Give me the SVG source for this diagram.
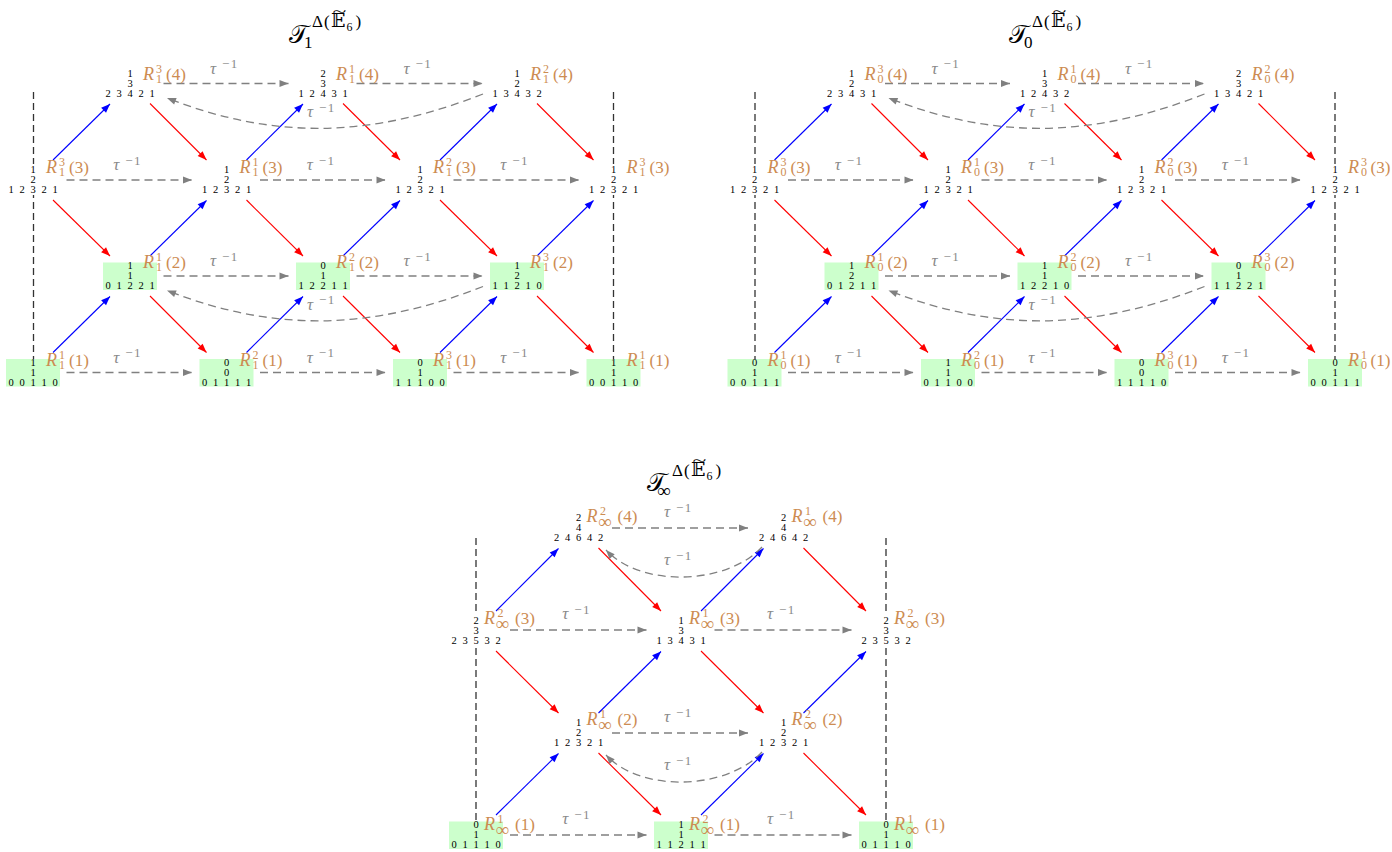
<svg xmlns="http://www.w3.org/2000/svg" width="1392" height="852" viewBox="0 0 1392 852">
<defs>
<style>
.d{font-family:"Liberation Serif",serif;font-size:10.5px;text-anchor:middle;fill:#000}
.lab{font-family:"Liberation Serif",serif;font-size:17px;fill:#cd8c52}
.it{font-style:italic;font-size:18px}
.sm{font-size:12px}
.inf{font-size:19px}
.tl{font-family:"Liberation Serif",serif;font-size:17px;fill:#8a8a8a}
.tau{font-style:italic}
.ts{font-size:13px;letter-spacing:1.5px}
.bx{fill:#ccffcc}
.wb{fill:#fff}
.b{stroke:#0000ff;stroke-width:1.1;fill:none;marker-end:url(#mb)}
.r{stroke:#ff0000;stroke-width:1.1;fill:none;marker-end:url(#mr)}
.t{stroke:#808080;stroke-width:1.3;stroke-dasharray:8 5;fill:none;marker-end:url(#mg)}
.v{stroke:#333;stroke-width:1.3;stroke-dasharray:7 4;fill:none}
.ttl{font-family:"Liberation Serif","DejaVu Serif","DejaVu Sans",serif;fill:#000}
</style>
<marker id="mb" markerUnits="userSpaceOnUse" markerWidth="10" markerHeight="8" refX="9" refY="4" orient="auto" overflow="visible"><path d="M0,0.5 L9,4 L0,7.5 Z" fill="#0000ff"/></marker>
<marker id="mr" markerUnits="userSpaceOnUse" markerWidth="10" markerHeight="8" refX="9" refY="4" orient="auto" overflow="visible"><path d="M0,0.5 L9,4 L0,7.5 Z" fill="#ff0000"/></marker>
<marker id="mg" markerUnits="userSpaceOnUse" markerWidth="10" markerHeight="8" refX="9" refY="4" orient="auto" overflow="visible"><path d="M0,0.5 L9,4 L0,7.5 Z" fill="#808080"/></marker>
</defs>
<rect width="1392" height="852" fill="#fff"/>

<g id="titles">
<g id="title-t1"><text class="ttl"><tspan x="289" y="43" font-size="25">𝒯</tspan><tspan x="304" y="48" font-size="17">1</tspan><tspan x="312" y="27" font-size="17">Δ</tspan><tspan x="324" y="27" font-size="17">(</tspan><tspan x="331" y="27" font-size="19">𝔼</tspan><tspan x="346.5" y="31" font-size="12">6</tspan><tspan x="355.5" y="27" font-size="17">)</tspan></text><text class="ttl" transform="translate(339.5,17) scale(1.7,1)" font-size="15" text-anchor="middle">~</text></g>
<g id="title-t0"><text class="ttl"><tspan x="1009" y="43" font-size="25">𝒯</tspan><tspan x="1024" y="48" font-size="17">0</tspan><tspan x="1032" y="27" font-size="17">Δ</tspan><tspan x="1044" y="27" font-size="17">(</tspan><tspan x="1051" y="27" font-size="19">𝔼</tspan><tspan x="1066.5" y="31" font-size="12">6</tspan><tspan x="1075.5" y="27" font-size="17">)</tspan></text><text class="ttl" transform="translate(1059.5,17) scale(1.7,1)" font-size="15" text-anchor="middle">~</text></g>
<g id="title-tinf"><text class="ttl"><tspan x="647" y="491" font-size="25">𝒯</tspan><tspan x="657" y="497" font-size="19">∞</tspan><tspan x="672" y="476" font-size="17">Δ</tspan><tspan x="684" y="476" font-size="17">(</tspan><tspan x="691" y="476" font-size="19">𝔼</tspan><tspan x="706.5" y="480" font-size="12">6</tspan><tspan x="715.5" y="476" font-size="17">)</tspan></text><text class="ttl" transform="translate(699.5,466) scale(1.7,1)" font-size="15" text-anchor="middle">~</text></g>
</g>

<g id="separators">
<line class="v" x1="33.5" y1="92" x2="33.5" y2="359"/>
<line class="v" x1="613.5" y1="92" x2="613.5" y2="359"/>
<line class="v" x1="755" y1="92" x2="755" y2="359"/>
<line class="v" x1="1335" y1="92" x2="1335" y2="359"/>
<line class="v" x1="476" y1="538" x2="476" y2="822"/>
<line class="v" x1="886" y1="538" x2="886" y2="822"/>
</g>

<g id="connectors">
<!-- top-left -->
<line class="b" x1="53" y1="160" x2="110" y2="104"/>
<line class="r" x1="150" y1="103.5" x2="206.5" y2="160"/>
<line class="b" x1="246.5" y1="160" x2="303" y2="104"/>
<line class="r" x1="343" y1="103.5" x2="400" y2="160"/>
<line class="b" x1="440" y1="160" x2="497" y2="104"/>
<line class="r" x1="537" y1="103.5" x2="593.5" y2="160"/>
<line class="r" x1="53" y1="200" x2="110" y2="256"/>
<line class="b" x1="150" y1="256" x2="206.5" y2="200.5"/>
<line class="r" x1="246.5" y1="200" x2="303" y2="256"/>
<line class="b" x1="343" y1="256" x2="400" y2="200.5"/>
<line class="r" x1="440" y1="200" x2="497" y2="256"/>
<line class="b" x1="537" y1="256" x2="593.5" y2="200.5"/>
<line class="b" x1="53" y1="352.5" x2="110" y2="296.5"/>
<line class="r" x1="150" y1="296" x2="206.5" y2="352.5"/>
<line class="b" x1="246.5" y1="352.5" x2="303" y2="296.5"/>
<line class="r" x1="343" y1="296" x2="400" y2="352.5"/>
<line class="b" x1="440" y1="352.5" x2="497" y2="296.5"/>
<line class="r" x1="537" y1="296" x2="593.5" y2="352.5"/>
<line class="t" x1="163.5" y1="83.5" x2="288.5" y2="83.5"/>
<line class="t" x1="356.5" y1="83.5" x2="482.5" y2="83.5"/>
<line class="t" x1="66.5" y1="180" x2="192" y2="180"/>
<line class="t" x1="260" y1="180" x2="385.5" y2="180"/>
<line class="t" x1="453.5" y1="180" x2="579" y2="180"/>
<line class="t" x1="163.5" y1="276" x2="288.5" y2="276"/>
<line class="t" x1="356.5" y1="276" x2="482.5" y2="276"/>
<line class="t" x1="66.5" y1="372.5" x2="192" y2="372.5"/>
<line class="t" x1="260" y1="372.5" x2="385.5" y2="372.5"/>
<line class="t" x1="453.5" y1="372.5" x2="579" y2="372.5"/>
<path class="t" d="M483,94 C373,137 277,141 167,98"/>
<path class="t" d="M483,286.5 C373,329.5 277,333.5 167,290.5"/>
<!-- top-right -->
<line class="b" x1="774.5" y1="160" x2="831.5" y2="104"/>
<line class="r" x1="871.5" y1="103.5" x2="928" y2="160"/>
<line class="b" x1="968" y1="160" x2="1024.5" y2="104"/>
<line class="r" x1="1064.5" y1="103.5" x2="1121.5" y2="160"/>
<line class="b" x1="1161.5" y1="160" x2="1218.5" y2="104"/>
<line class="r" x1="1258.5" y1="103.5" x2="1315" y2="160"/>
<line class="r" x1="774.5" y1="200" x2="831.5" y2="256"/>
<line class="b" x1="871.5" y1="256" x2="928" y2="200.5"/>
<line class="r" x1="968" y1="200" x2="1024.5" y2="256"/>
<line class="b" x1="1064.5" y1="256" x2="1121.5" y2="200.5"/>
<line class="r" x1="1161.5" y1="200" x2="1218.5" y2="256"/>
<line class="b" x1="1258.5" y1="256" x2="1315" y2="200.5"/>
<line class="b" x1="774.5" y1="352.5" x2="831.5" y2="296.5"/>
<line class="r" x1="871.5" y1="296" x2="928" y2="352.5"/>
<line class="b" x1="968" y1="352.5" x2="1024.5" y2="296.5"/>
<line class="r" x1="1064.5" y1="296" x2="1121.5" y2="352.5"/>
<line class="b" x1="1161.5" y1="352.5" x2="1218.5" y2="296.5"/>
<line class="r" x1="1258.5" y1="296" x2="1315" y2="352.5"/>
<line class="t" x1="885" y1="83.5" x2="1010" y2="83.5"/>
<line class="t" x1="1078" y1="83.5" x2="1204" y2="83.5"/>
<line class="t" x1="788" y1="180" x2="913.5" y2="180"/>
<line class="t" x1="981.5" y1="180" x2="1107" y2="180"/>
<line class="t" x1="1175" y1="180" x2="1300.5" y2="180"/>
<line class="t" x1="885" y1="276" x2="1010" y2="276"/>
<line class="t" x1="1078" y1="276" x2="1204" y2="276"/>
<line class="t" x1="788" y1="372.5" x2="913.5" y2="372.5"/>
<line class="t" x1="981.5" y1="372.5" x2="1107" y2="372.5"/>
<line class="t" x1="1175" y1="372.5" x2="1300.5" y2="372.5"/>
<path class="t" d="M1204.5,94 C1094.5,137 998.5,141 888.5,98"/>
<path class="t" d="M1204.5,286.5 C1094.5,329.5 998.5,333.5 888.5,290.5"/>
<!-- bottom -->
<line class="b" x1="496" y1="611" x2="558.5" y2="548.5"/>
<line class="r" x1="598.5" y1="548" x2="661" y2="611"/>
<line class="b" x1="701" y1="611" x2="763.5" y2="548.5"/>
<line class="r" x1="803.5" y1="548" x2="866" y2="611"/>
<line class="r" x1="496" y1="651" x2="558.5" y2="713"/>
<line class="b" x1="598.5" y1="713" x2="661" y2="651.5"/>
<line class="r" x1="701" y1="651" x2="763.5" y2="713"/>
<line class="b" x1="803.5" y1="713" x2="866" y2="651.5"/>
<line class="b" x1="496" y1="815" x2="558.5" y2="753.5"/>
<line class="r" x1="598.5" y1="753" x2="661" y2="815"/>
<line class="b" x1="701" y1="815" x2="763.5" y2="753.5"/>
<line class="r" x1="803.5" y1="753" x2="866" y2="815"/>
<line class="t" x1="612" y1="528" x2="748" y2="528"/>
<line class="t" x1="510" y1="630" x2="646.5" y2="630"/>
<line class="t" x1="714.5" y1="630" x2="851.5" y2="630"/>
<line class="t" x1="612" y1="733" x2="748" y2="733"/>
<line class="t" x1="510" y1="835" x2="646.5" y2="835"/>
<line class="t" x1="714.5" y1="835" x2="851.5" y2="835"/>
<path class="t" d="M762,547 C727,585 641,588 606,550"/>
<path class="t" d="M762,752 C727,790 641,793 606,755"/>
<!-- tau labels -->
<g id="tau-labels">
<text class="tl" y="73.5"><tspan class="tau" x="210">τ</tspan><tspan class="ts" x="222" y="68">−1</tspan></text>
<text class="tl" y="73.5"><tspan class="tau" x="403.5">τ</tspan><tspan class="ts" x="415.5" y="68">−1</tspan></text>
<text class="tl" y="117"><tspan class="tau" x="307">τ</tspan><tspan class="ts" x="319" y="111.5">−1</tspan></text>
<text class="tl" y="170"><tspan class="tau" x="113.25">τ</tspan><tspan class="ts" x="125.25" y="164.5">−1</tspan></text>
<text class="tl" y="170"><tspan class="tau" x="306.75">τ</tspan><tspan class="ts" x="318.75" y="164.5">−1</tspan></text>
<text class="tl" y="170"><tspan class="tau" x="500.25">τ</tspan><tspan class="ts" x="512.25" y="164.5">−1</tspan></text>
<text class="tl" y="266"><tspan class="tau" x="210">τ</tspan><tspan class="ts" x="222" y="260.5">−1</tspan></text>
<text class="tl" y="266"><tspan class="tau" x="403.5">τ</tspan><tspan class="ts" x="415.5" y="260.5">−1</tspan></text>
<text class="tl" y="309.5"><tspan class="tau" x="307">τ</tspan><tspan class="ts" x="319" y="304">−1</tspan></text>
<text class="tl" y="362.5"><tspan class="tau" x="113.25">τ</tspan><tspan class="ts" x="125.25" y="357">−1</tspan></text>
<text class="tl" y="362.5"><tspan class="tau" x="306.75">τ</tspan><tspan class="ts" x="318.75" y="357">−1</tspan></text>
<text class="tl" y="362.5"><tspan class="tau" x="500.25">τ</tspan><tspan class="ts" x="512.25" y="357">−1</tspan></text>

<text class="tl" y="73.5"><tspan class="tau" x="931.5">τ</tspan><tspan class="ts" x="943.5" y="68">−1</tspan></text>
<text class="tl" y="73.5"><tspan class="tau" x="1125">τ</tspan><tspan class="ts" x="1137" y="68">−1</tspan></text>
<text class="tl" y="117"><tspan class="tau" x="1028.5">τ</tspan><tspan class="ts" x="1040.5" y="111.5">−1</tspan></text>
<text class="tl" y="170"><tspan class="tau" x="834.75">τ</tspan><tspan class="ts" x="846.75" y="164.5">−1</tspan></text>
<text class="tl" y="170"><tspan class="tau" x="1028.25">τ</tspan><tspan class="ts" x="1040.25" y="164.5">−1</tspan></text>
<text class="tl" y="170"><tspan class="tau" x="1221.75">τ</tspan><tspan class="ts" x="1233.75" y="164.5">−1</tspan></text>
<text class="tl" y="266"><tspan class="tau" x="931.5">τ</tspan><tspan class="ts" x="943.5" y="260.5">−1</tspan></text>
<text class="tl" y="266"><tspan class="tau" x="1125">τ</tspan><tspan class="ts" x="1137" y="260.5">−1</tspan></text>
<text class="tl" y="309.5"><tspan class="tau" x="1028.5">τ</tspan><tspan class="ts" x="1040.5" y="304">−1</tspan></text>
<text class="tl" y="362.5"><tspan class="tau" x="834.75">τ</tspan><tspan class="ts" x="846.75" y="357">−1</tspan></text>
<text class="tl" y="362.5"><tspan class="tau" x="1028.25">τ</tspan><tspan class="ts" x="1040.25" y="357">−1</tspan></text>
<text class="tl" y="362.5"><tspan class="tau" x="1221.75">τ</tspan><tspan class="ts" x="1233.75" y="357">−1</tspan></text>

<text class="tl" y="517"><tspan class="tau" x="664">τ</tspan><tspan class="ts" x="676" y="511.5">−1</tspan></text>
<text class="tl" y="565"><tspan class="tau" x="664">τ</tspan><tspan class="ts" x="676" y="559.5">−1</tspan></text>
<text class="tl" y="619"><tspan class="tau" x="562.25">τ</tspan><tspan class="ts" x="574.25" y="613.5">−1</tspan></text>
<text class="tl" y="619"><tspan class="tau" x="767">τ</tspan><tspan class="ts" x="779" y="613.5">−1</tspan></text>
<text class="tl" y="722"><tspan class="tau" x="664">τ</tspan><tspan class="ts" x="676" y="716.5">−1</tspan></text>
<text class="tl" y="770"><tspan class="tau" x="664">τ</tspan><tspan class="ts" x="676" y="764.5">−1</tspan></text>
<text class="tl" y="824"><tspan class="tau" x="562.25">τ</tspan><tspan class="ts" x="574.25" y="818.5">−1</tspan></text>
<text class="tl" y="824"><tspan class="tau" x="767">τ</tspan><tspan class="ts" x="779" y="818.5">−1</tspan></text>
</g>
</g>

<g id="nodes">
<!-- ===== T1 ===== -->
<g id="t1-r4-a"><text class="d" x="130" y="76.5">1</text><text class="d" x="130" y="86.5">3</text><text class="d" x="108 119 130 141 152" y="96.5">23421</text><text class="lab" y="79.5"><tspan class="it" x="143">R</tspan><tspan class="sm" x="156" y="72.5">3</tspan><tspan class="sm" x="156" y="82.5">1</tspan><tspan x="166" y="79.5">(4)</tspan></text></g>
<g id="t1-r4-b"><text class="d" x="323" y="76.5">2</text><text class="d" x="323" y="86.5">3</text><text class="d" x="301 312 323 334 345" y="96.5">12431</text><text class="lab" y="79.5"><tspan class="it" x="336">R</tspan><tspan class="sm" x="349" y="72.5">1</tspan><tspan class="sm" x="349" y="82.5">1</tspan><tspan x="359" y="79.5">(4)</tspan></text></g>
<g id="t1-r4-c"><text class="d" x="517" y="76.5">1</text><text class="d" x="517" y="86.5">2</text><text class="d" x="495 506 517 528 539" y="96.5">13432</text><text class="lab" y="79.5"><tspan class="it" x="530">R</tspan><tspan class="sm" x="543" y="72.5">2</tspan><tspan class="sm" x="543" y="82.5">1</tspan><tspan x="553" y="79.5">(4)</tspan></text></g>

<g id="t1-r3-a"><rect class="wb" x="8" y="164" width="50" height="31"/><text class="d" x="33" y="173">1</text><text class="d" x="33" y="183">2</text><text class="d" x="11 22 33 44 55" y="193">12321</text><text class="lab" y="173"><tspan class="it" x="46">R</tspan><tspan class="sm" x="59" y="166">3</tspan><tspan class="sm" x="59" y="176">1</tspan><tspan x="69" y="173">(3)</tspan></text></g>
<g id="t1-r3-b"><text class="d" x="226.5" y="173">1</text><text class="d" x="226.5" y="183">2</text><text class="d" x="204.5 215.5 226.5 237.5 248.5" y="193">12321</text><text class="lab" y="173"><tspan class="it" x="239.5">R</tspan><tspan class="sm" x="252.5" y="166">1</tspan><tspan class="sm" x="252.5" y="176">1</tspan><tspan x="262.5" y="173">(3)</tspan></text></g>
<g id="t1-r3-c"><text class="d" x="420" y="173">1</text><text class="d" x="420" y="183">2</text><text class="d" x="398 409 420 431 442" y="193">12321</text><text class="lab" y="173"><tspan class="it" x="433">R</tspan><tspan class="sm" x="446" y="166">2</tspan><tspan class="sm" x="446" y="176">1</tspan><tspan x="456" y="173">(3)</tspan></text></g>
<g id="t1-r3-d"><rect class="wb" x="588.5" y="164" width="50" height="31"/><text class="d" x="613.5" y="173">1</text><text class="d" x="613.5" y="183">2</text><text class="d" x="591.5 602.5 613.5 624.5 635.5" y="193">12321</text><text class="lab" y="173"><tspan class="it" x="626.5">R</tspan><tspan class="sm" x="639.5" y="166">3</tspan><tspan class="sm" x="639.5" y="176">1</tspan><tspan x="649.5" y="173">(3)</tspan></text></g>

<g id="t1-r2-a"><rect class="bx" x="103" y="262.5" width="54" height="27.5"/><text class="d" x="130" y="269">1</text><text class="d" x="130" y="279">1</text><text class="d" x="108 119 130 141 152" y="289">01221</text><text class="lab" y="268"><tspan class="it" x="143">R</tspan><tspan class="sm" x="156" y="261">1</tspan><tspan class="sm" x="156" y="271">1</tspan><tspan x="166" y="268">(2)</tspan></text></g>
<g id="t1-r2-b"><rect class="bx" x="296" y="262.5" width="54" height="27.5"/><text class="d" x="323" y="269">0</text><text class="d" x="323" y="279">1</text><text class="d" x="301 312 323 334 345" y="289">12211</text><text class="lab" y="268"><tspan class="it" x="336">R</tspan><tspan class="sm" x="349" y="261">2</tspan><tspan class="sm" x="349" y="271">1</tspan><tspan x="359" y="268">(2)</tspan></text></g>
<g id="t1-r2-c"><rect class="bx" x="490" y="262.5" width="54" height="27.5"/><text class="d" x="517" y="269">1</text><text class="d" x="517" y="279">2</text><text class="d" x="495 506 517 528 539" y="289">11210</text><text class="lab" y="268"><tspan class="it" x="530">R</tspan><tspan class="sm" x="543" y="261">3</tspan><tspan class="sm" x="543" y="271">1</tspan><tspan x="553" y="268">(2)</tspan></text></g>

<g id="t1-r1-a"><rect class="bx" x="6" y="359" width="54" height="27.5"/><text class="d" x="33" y="365.5">1</text><text class="d" x="33" y="375.5">1</text><text class="d" x="11 22 33 44 55" y="385.5">00110</text><text class="lab" y="366"><tspan class="it" x="46">R</tspan><tspan class="sm" x="59" y="359">1</tspan><tspan class="sm" x="59" y="369">1</tspan><tspan x="69" y="366">(1)</tspan></text></g>
<g id="t1-r1-b"><rect class="bx" x="199.5" y="359" width="54" height="27.5"/><text class="d" x="226.5" y="365.5">0</text><text class="d" x="226.5" y="375.5">0</text><text class="d" x="204.5 215.5 226.5 237.5 248.5" y="385.5">01111</text><text class="lab" y="366"><tspan class="it" x="239.5">R</tspan><tspan class="sm" x="252.5" y="359">2</tspan><tspan class="sm" x="252.5" y="369">1</tspan><tspan x="262.5" y="366">(1)</tspan></text></g>
<g id="t1-r1-c"><rect class="bx" x="393" y="359" width="54" height="27.5"/><text class="d" x="420" y="365.5">0</text><text class="d" x="420" y="375.5">1</text><text class="d" x="398 409 420 431 442" y="385.5">11100</text><text class="lab" y="366"><tspan class="it" x="433">R</tspan><tspan class="sm" x="446" y="359">3</tspan><tspan class="sm" x="446" y="369">1</tspan><tspan x="456" y="366">(1)</tspan></text></g>
<g id="t1-r1-d"><rect class="bx" x="586.5" y="359" width="54" height="27.5"/><text class="d" x="613.5" y="365.5">1</text><text class="d" x="613.5" y="375.5">1</text><text class="d" x="591.5 602.5 613.5 624.5 635.5" y="385.5">00110</text><text class="lab" y="366"><tspan class="it" x="626.5">R</tspan><tspan class="sm" x="639.5" y="359">1</tspan><tspan class="sm" x="639.5" y="369">1</tspan><tspan x="649.5" y="366">(1)</tspan></text></g>

<!-- ===== T0 ===== -->
<g id="t0-r4-a"><text class="d" x="851.5" y="76.5">1</text><text class="d" x="851.5" y="86.5">2</text><text class="d" x="829.5 840.5 851.5 862.5 873.5" y="96.5">23431</text><text class="lab" y="79.5"><tspan class="it" x="864.5">R</tspan><tspan class="sm" x="877.5" y="72.5">3</tspan><tspan class="sm" x="877.5" y="82.5">0</tspan><tspan x="887.5" y="79.5">(4)</tspan></text></g>
<g id="t0-r4-b"><text class="d" x="1044.5" y="76.5">1</text><text class="d" x="1044.5" y="86.5">3</text><text class="d" x="1022.5 1033.5 1044.5 1055.5 1066.5" y="96.5">12432</text><text class="lab" y="79.5"><tspan class="it" x="1057.5">R</tspan><tspan class="sm" x="1070.5" y="72.5">1</tspan><tspan class="sm" x="1070.5" y="82.5">0</tspan><tspan x="1080.5" y="79.5">(4)</tspan></text></g>
<g id="t0-r4-c"><text class="d" x="1238.5" y="76.5">2</text><text class="d" x="1238.5" y="86.5">3</text><text class="d" x="1216.5 1227.5 1238.5 1249.5 1260.5" y="96.5">13421</text><text class="lab" y="79.5"><tspan class="it" x="1251.5">R</tspan><tspan class="sm" x="1264.5" y="72.5">2</tspan><tspan class="sm" x="1264.5" y="82.5">0</tspan><tspan x="1274.5" y="79.5">(4)</tspan></text></g>

<g id="t0-r3-a"><rect class="wb" x="729.5" y="164" width="50" height="31"/><text class="d" x="754.5" y="173">1</text><text class="d" x="754.5" y="183">2</text><text class="d" x="732.5 743.5 754.5 765.5 776.5" y="193">12321</text><text class="lab" y="173"><tspan class="it" x="767.5">R</tspan><tspan class="sm" x="780.5" y="166">3</tspan><tspan class="sm" x="780.5" y="176">0</tspan><tspan x="790.5" y="173">(3)</tspan></text></g>
<g id="t0-r3-b"><text class="d" x="948" y="173">1</text><text class="d" x="948" y="183">2</text><text class="d" x="926 937 948 959 970" y="193">12321</text><text class="lab" y="173"><tspan class="it" x="961">R</tspan><tspan class="sm" x="974" y="166">1</tspan><tspan class="sm" x="974" y="176">0</tspan><tspan x="984" y="173">(3)</tspan></text></g>
<g id="t0-r3-c"><text class="d" x="1141.5" y="173">1</text><text class="d" x="1141.5" y="183">2</text><text class="d" x="1119.5 1130.5 1141.5 1152.5 1163.5" y="193">12321</text><text class="lab" y="173"><tspan class="it" x="1154.5">R</tspan><tspan class="sm" x="1167.5" y="166">2</tspan><tspan class="sm" x="1167.5" y="176">0</tspan><tspan x="1177.5" y="173">(3)</tspan></text></g>
<g id="t0-r3-d"><rect class="wb" x="1310" y="164" width="50" height="31"/><text class="d" x="1335" y="173">1</text><text class="d" x="1335" y="183">2</text><text class="d" x="1313 1324 1335 1346 1357" y="193">12321</text><text class="lab" y="173"><tspan class="it" x="1348">R</tspan><tspan class="sm" x="1361" y="166">3</tspan><tspan class="sm" x="1361" y="176">0</tspan><tspan x="1370.5" y="173">(3)</tspan></text></g>

<g id="t0-r2-a"><rect class="bx" x="824.5" y="262.5" width="54" height="27.5"/><text class="d" x="851.5" y="269">1</text><text class="d" x="851.5" y="279">2</text><text class="d" x="829.5 840.5 851.5 862.5 873.5" y="289">01211</text><text class="lab" y="268"><tspan class="it" x="864.5">R</tspan><tspan class="sm" x="877.5" y="261">1</tspan><tspan class="sm" x="877.5" y="271">0</tspan><tspan x="887.5" y="268">(2)</tspan></text></g>
<g id="t0-r2-b"><rect class="bx" x="1017.5" y="262.5" width="54" height="27.5"/><text class="d" x="1044.5" y="269">1</text><text class="d" x="1044.5" y="279">1</text><text class="d" x="1022.5 1033.5 1044.5 1055.5 1066.5" y="289">12210</text><text class="lab" y="268"><tspan class="it" x="1057.5">R</tspan><tspan class="sm" x="1070.5" y="261">2</tspan><tspan class="sm" x="1070.5" y="271">0</tspan><tspan x="1080.5" y="268">(2)</tspan></text></g>
<g id="t0-r2-c"><rect class="bx" x="1211.5" y="262.5" width="54" height="27.5"/><text class="d" x="1238.5" y="269">0</text><text class="d" x="1238.5" y="279">1</text><text class="d" x="1216.5 1227.5 1238.5 1249.5 1260.5" y="289">11221</text><text class="lab" y="268"><tspan class="it" x="1251.5">R</tspan><tspan class="sm" x="1264.5" y="261">3</tspan><tspan class="sm" x="1264.5" y="271">0</tspan><tspan x="1274.5" y="268">(2)</tspan></text></g>

<g id="t0-r1-a"><rect class="bx" x="727.5" y="359" width="54" height="27.5"/><text class="d" x="754.5" y="365.5">0</text><text class="d" x="754.5" y="375.5">1</text><text class="d" x="732.5 743.5 754.5 765.5 776.5" y="385.5">00111</text><text class="lab" y="366"><tspan class="it" x="767.5">R</tspan><tspan class="sm" x="780.5" y="359">1</tspan><tspan class="sm" x="780.5" y="369">0</tspan><tspan x="790.5" y="366">(1)</tspan></text></g>
<g id="t0-r1-b"><rect class="bx" x="921" y="359" width="54" height="27.5"/><text class="d" x="948" y="365.5">1</text><text class="d" x="948" y="375.5">1</text><text class="d" x="926 937 948 959 970" y="385.5">01100</text><text class="lab" y="366"><tspan class="it" x="961">R</tspan><tspan class="sm" x="974" y="359">2</tspan><tspan class="sm" x="974" y="369">0</tspan><tspan x="984" y="366">(1)</tspan></text></g>
<g id="t0-r1-c"><rect class="bx" x="1114.5" y="359" width="54" height="27.5"/><text class="d" x="1141.5" y="365.5">0</text><text class="d" x="1141.5" y="375.5">0</text><text class="d" x="1119.5 1130.5 1141.5 1152.5 1163.5" y="385.5">11110</text><text class="lab" y="366"><tspan class="it" x="1154.5">R</tspan><tspan class="sm" x="1167.5" y="359">3</tspan><tspan class="sm" x="1167.5" y="369">0</tspan><tspan x="1177.5" y="366">(1)</tspan></text></g>
<g id="t0-r1-d"><rect class="bx" x="1308" y="359" width="54" height="27.5"/><text class="d" x="1335" y="365.5">0</text><text class="d" x="1335" y="375.5">1</text><text class="d" x="1313 1324 1335 1346 1357" y="385.5">00111</text><text class="lab" y="366"><tspan class="it" x="1348">R</tspan><tspan class="sm" x="1361" y="359">1</tspan><tspan class="sm" x="1361" y="369">0</tspan><tspan x="1370.5" y="366">(1)</tspan></text></g>

<!-- ===== Tinf ===== -->
<g id="ti-r4-a"><text class="d" x="578.5" y="521">2</text><text class="d" x="578.5" y="531">4</text><text class="d" x="556.5 567.5 578.5 589.5 600.5" y="541">24642</text><text class="lab" y="522"><tspan class="it" x="586.5">R</tspan><tspan class="sm" x="600" y="515">2</tspan><tspan class="inf" x="598" y="528">∞</tspan><tspan x="617.5" y="522">(4)</tspan></text></g>
<g id="ti-r4-b"><text class="d" x="783.5" y="521">2</text><text class="d" x="783.5" y="531">4</text><text class="d" x="761.5 772.5 783.5 794.5 805.5" y="541">24642</text><text class="lab" y="522"><tspan class="it" x="791.5">R</tspan><tspan class="sm" x="805" y="515">1</tspan><tspan class="inf" x="803" y="528">∞</tspan><tspan x="822.5" y="522">(4)</tspan></text></g>

<g id="ti-r3-a"><rect class="wb" x="451" y="615" width="50" height="31"/><text class="d" x="476" y="624">2</text><text class="d" x="476" y="634">3</text><text class="d" x="454 465 476 487 498" y="644">23532</text><text class="lab" y="624"><tspan class="it" x="484">R</tspan><tspan class="sm" x="497.5" y="617">2</tspan><tspan class="inf" x="495.5" y="630">∞</tspan><tspan x="515" y="624">(3)</tspan></text></g>
<g id="ti-r3-b"><text class="d" x="681" y="624">1</text><text class="d" x="681" y="634">3</text><text class="d" x="659 670 681 692 703" y="644">13431</text><text class="lab" y="624"><tspan class="it" x="689">R</tspan><tspan class="sm" x="702.5" y="617">1</tspan><tspan class="inf" x="700.5" y="630">∞</tspan><tspan x="720" y="624">(3)</tspan></text></g>
<g id="ti-r3-c"><rect class="wb" x="861" y="615" width="50" height="31"/><text class="d" x="886" y="624">2</text><text class="d" x="886" y="634">3</text><text class="d" x="864 875 886 897 908" y="644">23532</text><text class="lab" y="624"><tspan class="it" x="894">R</tspan><tspan class="sm" x="907.5" y="617">2</tspan><tspan class="inf" x="905.5" y="630">∞</tspan><tspan x="925" y="624">(3)</tspan></text></g>

<g id="ti-r2-a"><text class="d" x="578.5" y="726">1</text><text class="d" x="578.5" y="736">2</text><text class="d" x="556.5 567.5 578.5 589.5 600.5" y="746">12321</text><text class="lab" y="725"><tspan class="it" x="586.5">R</tspan><tspan class="sm" x="600" y="718">1</tspan><tspan class="inf" x="598" y="731">∞</tspan><tspan x="617.5" y="725">(2)</tspan></text></g>
<g id="ti-r2-b"><text class="d" x="783.5" y="726">1</text><text class="d" x="783.5" y="736">2</text><text class="d" x="761.5 772.5 783.5 794.5 805.5" y="746">12321</text><text class="lab" y="725"><tspan class="it" x="791.5">R</tspan><tspan class="sm" x="805" y="718">2</tspan><tspan class="inf" x="803" y="731">∞</tspan><tspan x="822.5" y="725">(2)</tspan></text></g>

<g id="ti-r1-a"><rect class="bx" x="449" y="821.5" width="54" height="27.5"/><text class="d" x="476" y="828">0</text><text class="d" x="476" y="838">1</text><text class="d" x="454 465 476 487 498" y="848">01110</text><text class="lab" y="830"><tspan class="it" x="484">R</tspan><tspan class="sm" x="497.5" y="823">1</tspan><tspan class="inf" x="495.5" y="836">∞</tspan><tspan x="515" y="830">(1)</tspan></text></g>
<g id="ti-r1-b"><rect class="bx" x="654" y="821.5" width="54" height="27.5"/><text class="d" x="681" y="828">1</text><text class="d" x="681" y="838">1</text><text class="d" x="659 670 681 692 703" y="848">11211</text><text class="lab" y="830"><tspan class="it" x="689">R</tspan><tspan class="sm" x="702.5" y="823">2</tspan><tspan class="inf" x="700.5" y="836">∞</tspan><tspan x="720" y="830">(1)</tspan></text></g>
<g id="ti-r1-c"><rect class="bx" x="859" y="821.5" width="54" height="27.5"/><text class="d" x="886" y="828">0</text><text class="d" x="886" y="838">1</text><text class="d" x="864 875 886 897 908" y="848">01110</text><text class="lab" y="830"><tspan class="it" x="894">R</tspan><tspan class="sm" x="907.5" y="823">1</tspan><tspan class="inf" x="905.5" y="836">∞</tspan><tspan x="925" y="830">(1)</tspan></text></g>
</g>
</svg>
